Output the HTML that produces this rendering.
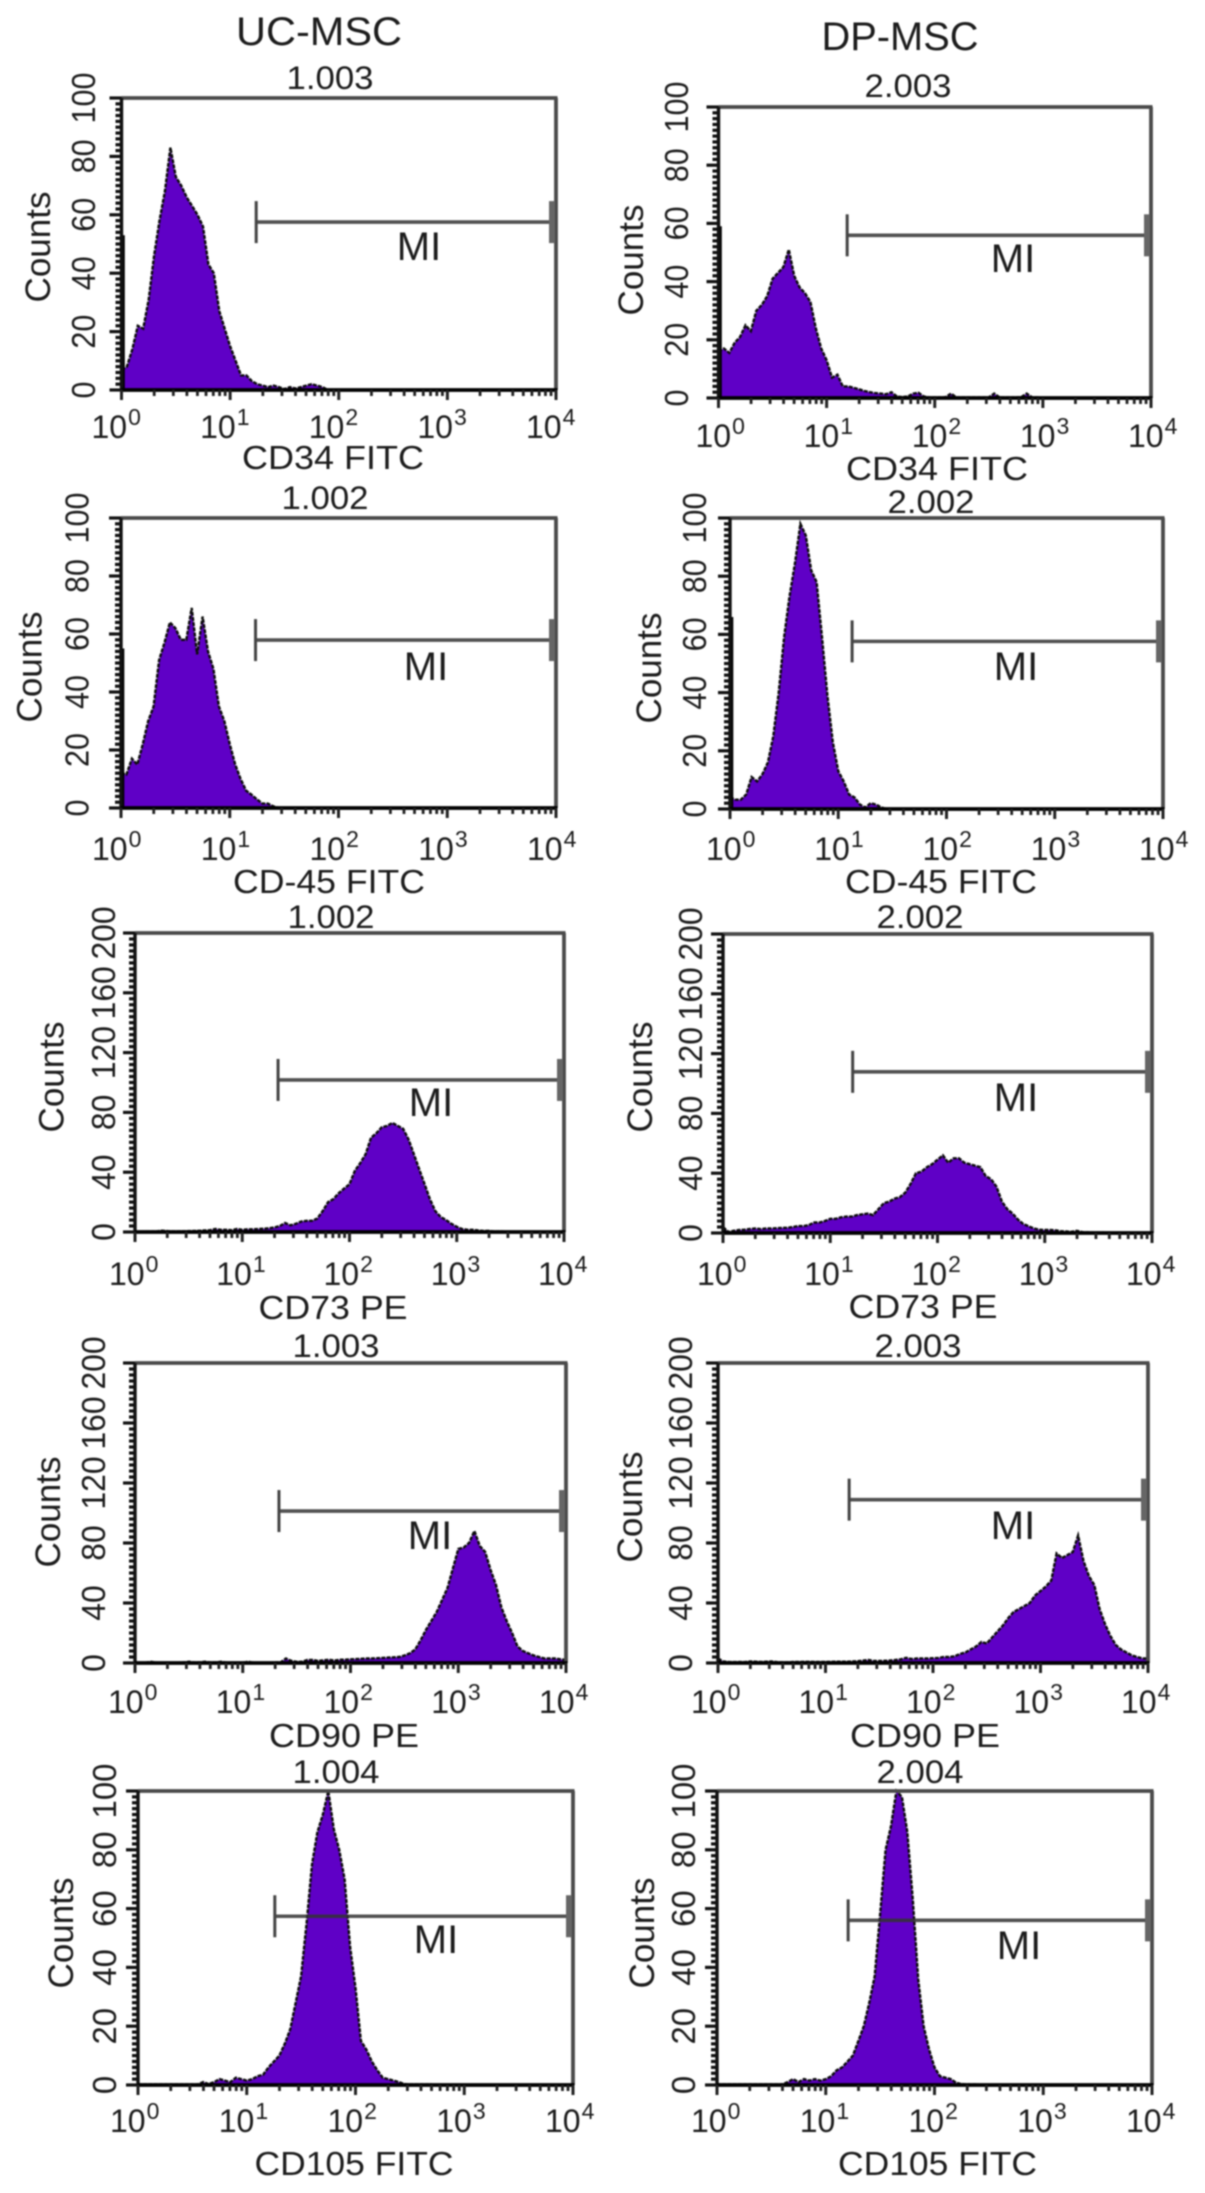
<!DOCTYPE html>
<html lang="en">
<head>
<meta charset="utf-8">
<title>Flow cytometry histograms: UC-MSC and DP-MSC</title>
<style>
html,body{margin:0;padding:0;background:#fff;width:1205px;height:2193px;overflow:hidden}
svg{display:block;filter:blur(0.7px)}
text{font-family:"Liberation Sans",Arial,sans-serif;fill:#1c1c1c}
</style>
</head>
<body>
<svg id="figure" xmlns="http://www.w3.org/2000/svg" width="1205" height="2193" viewBox="0 0 1205 2193">
  <text x="319" y="45" font-size="40" text-anchor="middle" textLength="166" lengthAdjust="spacingAndGlyphs">UC-MSC</text>
  <text x="900" y="50" font-size="40" text-anchor="middle" textLength="157" lengthAdjust="spacingAndGlyphs">DP-MSC</text>
</svg>
<script>
// Histogram counts, one value per 0.05 log10 bin starting at 10^0.
const ucCd34Counts = [7,8,14,22,21,31,46,58,68,83,73,70,66,63,60,56,43,40,27,21,15,10,5,5,3,2,1.5,1,1.5,1,0.3,1,0.5,1,1.5,2,1.5,1,0];
const dpCd34Counts = [16,17,15.5,19,21,25,23,30,32,35,41,43,45,51,42,38,36,33,24,17,13,7,8,4,4,3.5,3,2.4,2,1.7,1.5,1.3,2,0.5,0.3,0.5,1.5,1.8,0.5,0.2,0.2,0.2,0.3,1.5,0.2,0.2,0.2,0.2,0.2,0.2,0.2,1.5,0.2,0.2,0.2,0.2,0.3,1.5,0.2,0.2,0];
const ucCd45Counts = [12,11.5,17,15,22,30,35,51,57,64,62,58,58,69,53,66,54,48,35,30,22,15,10,6,4.6,3,1.5,1.5,0.6,0];
const dpCd45Counts = [4,3.2,3.2,5,11,9.5,12,16,25,40,59,73,84.5,98,94,82,78,59,39,23,13,9.5,5,4,1.5,0.5,2,1.5,0.5,0];
const ucCd73Counts = [0.2,0.2,0.3,0.3,0.4,0.9,0.6,0.4,0.4,0.5,0.6,0.7,0.8,1,1.2,2,1.5,1.5,1.2,2,1.5,1.8,1.8,2,2.2,2.5,3,4,6,4.5,5.5,7,7.5,7.5,9,14,20,22,26,29,32,41,46,52,63,66,70,71,73,71,69,62,52,42,32,22,14,10,8,5.5,3.5,2,1.5,1.5,1,0.7,0.8,0.3,0.4,0.2,0.2,0.2,0];
const dpCd73Counts = [4,0.7,1.5,2,2.2,2.7,3,2.6,3,3,3.2,3.4,3.5,4,4.6,4.6,5.3,7,7,8,9.5,9.5,10.5,11,11,12,12.5,13,12,16,20,21,23,24,27,33,40,41,44,46,49,52,47,50,50,47,46,45,44,38,36,31,21,16,13,9,6,4.5,3,2.2,2,2,1.8,1.2,1,0.8,1.5,0.6,0.5,0.3,0.3,0.3,0];
const ucCd90Counts = [0.2,0.2,0.2,0.8,0.2,0.2,0.2,0.2,0.2,0.3,0.9,0.3,0.3,0.9,0.3,0.4,0.9,0.2,0.2,0.2,0.2,0.9,0.2,0.2,0.2,0.2,0.3,0.3,3,1.5,0.8,0.8,2,2,1.3,1.8,2.2,1.6,2.2,2.2,2.5,2.6,2.8,3,3,3.2,3.4,3.6,3.8,4,5,6.5,9,15,22,28,34,42,50,63,76,77,80,88,78,74,62,52,37,28,20,11,8,6.5,5,4,3,3,3,2.5,2];
const dpCd90Counts = [3,1,0.7,0.6,0.7,0.6,1,0.9,0.7,0.9,1,0.6,0.5,0.5,0.7,0.7,0.8,0.8,0.7,0.7,0.7,0.8,0.9,0.9,0.9,1,1.2,1.6,2,1.3,1.3,1.5,1.7,2,2.5,3.5,2.7,3,3,3,3.2,3.4,4,4,4.5,6,7,9,11,14,13,17,21,25,30,34,36,38,40,45,48,51,55,73,70,72,74,85,68,58,52,36,26,18,12,9,7,5,4,3,3];
const ucCd105Counts = [0.2,0.2,0.2,0.2,0.2,0.2,0.2,0.2,0.2,0.2,0.2,0.2,1,0.3,1,2,1.5,1,2.5,2,1.5,2,3,3.5,6,8,10,14,19,28,37,55,75,86,92,100,87,80,70,47,33,15,12,8,5,2.5,2,1.5,1,0.3,0.2,0.2,0.2,0.2,0.2];
const dpCd105Counts = [0.2,0.2,0.2,0.2,0.2,0.2,0.2,0.2,0.2,0.2,0.2,0.2,0.2,1,2,1,2,1.5,2,1.5,2,3,5,6,8,10,15,20,28,37,58,80,88,100,98,86,63,36,20,12,6,3,2.5,2,0.7,0.3,0.2,0.2,0.2];

// Counts in the very first channel (the spike against the left axis), panel order.
const firstChannelCounts = [53,59,55,66,0,3,0,2,0,0];

// Marker gate "MI": start decade and the count level where its bar sits, panel order.
const gateStartDecades = [1.24,1.19,1.237,1.128,1.334,1.209,1.336,1.22,1.258,1.206];
const gateLevels = [57.5,55.9,57.9,57.6,101.7,107.8,101.3,108.9,57.4,56];

// Axis tick values and labels.
const xExponents = [0,1,2,3,4];
const xMinorMultipliers = [2,3,4,5,6,7,8,9];
const yTicks100 = [0,20,40,60,80,100];
const yTicks200 = [0,40,80,120,160,200];

// Panel text.
const panelTitles = ['1.003','2.003','1.002','2.002','1.002','2.002','1.003','2.003','1.004','2.004'];
const panelMarkers = ['CD34 FITC','CD34 FITC','CD-45 FITC','CD-45 FITC','CD73 PE','CD73 PE','CD90 PE','CD90 PE','CD105 FITC','CD105 FITC'];
const panelSeries = [ucCd34Counts,dpCd34Counts,ucCd45Counts,dpCd45Counts,ucCd73Counts,dpCd73Counts,ucCd90Counts,dpCd90Counts,ucCd105Counts,dpCd105Counts];
const panelKeys = ['uc-cd34','dp-cd34','uc-cd45','dp-cd45','uc-cd73','dp-cd73','uc-cd90','dp-cd90','uc-cd105','dp-cd105'];
const panelTickSets = [yTicks100,yTicks100,yTicks100,yTicks100,yTicks200,yTicks200,yTicks200,yTicks200,yTicks100,yTicks100];

// Layout (pixels): frame, then positions of the panel's text.
const layouts = [
 {l:121.5,r:556,t:98,b:390,  titleX:330,titleY:89,  labelX:333,labelY:469, labelW:182, miX:419,miY:260, countsX:50,countsY:247, yLabelX:95,  xLabelY:438, xLabelDx:-30, digitW:17},
 {l:718.5,r:1151,t:107,b:398,titleX:908,titleY:97,  labelX:937,labelY:480, labelW:182, miX:1013,miY:272,countsX:643,countsY:260,yLabelX:688, xLabelY:447, xLabelDx:-23, digitW:17},
 {l:121,r:556,t:518,b:808,   titleX:325,titleY:509, labelX:329,labelY:893, labelW:192, miX:426,miY:680, countsX:41.5,countsY:667,yLabelX:88.5,xLabelY:860, xLabelDx:-29, digitW:17},
 {l:730,r:1163,t:518,b:809,  titleX:931,titleY:513, labelX:941,labelY:893, labelW:192, miX:1016,miY:680,countsX:661,countsY:668,yLabelX:706, xLabelY:860, xLabelDx:-24, digitW:17},
 {l:135,r:564,t:933,b:1232,  titleX:331,titleY:928, labelX:333,labelY:1319,labelW:149, miX:431,miY:1116,countsX:63.5,countsY:1077,yLabelX:115,xLabelY:1285,xLabelDx:-26, digitW:17.7},
 {l:723,r:1152,t:934,b:1233, titleX:920,titleY:928, labelX:923,labelY:1318,labelW:149, miX:1016,miY:1111,countsX:652,countsY:1077,yLabelX:702,xLabelY:1285,xLabelDx:-26, digitW:17.7},
 {l:135,r:566,t:1363,b:1663, titleX:336,titleY:1357,labelX:344,labelY:1747,labelW:150, miX:430,miY:1549,countsX:60,countsY:1512,yLabelX:105, xLabelY:1713,xLabelDx:-27, digitW:17.7},
 {l:718,r:1148,t:1363,b:1663,titleX:918,titleY:1357,labelX:925,labelY:1747,labelW:150, miX:1013,miY:1539,countsX:642,countsY:1507,yLabelX:692,xLabelY:1713,xLabelDx:-27, digitW:17.7},
 {l:138,r:573,t:1791,b:2085, titleX:336,titleY:1783,labelX:354,labelY:2175,labelW:199, miX:436,miY:1953,countsX:73,countsY:1933,yLabelX:116, xLabelY:2132,xLabelDx:-28, digitW:18.3},
 {l:717,r:1152,t:1791,b:2085,titleX:920,titleY:1783,labelX:937.5,labelY:2175,labelW:199,miX:1019,miY:1959,countsX:654,countsY:1933,yLabelX:695,xLabelY:2132,xLabelDx:-26, digitW:18.3}
];

const BIN_DECADES = 0.05;
const DECADES = 4;
const SVG_NS = 'http://www.w3.org/2000/svg';
const figure = document.getElementById('figure');

function make(tag, parent, attrs) {
  const node = document.createElementNS(SVG_NS, tag);
  for (const key in attrs) node.setAttribute(key, attrs[key]);
  parent.appendChild(node);
  return node;
}
function xScale(f, decade) { return f.l + (decade / DECADES) * (f.r - f.l); }
function yScale(f, count, yMax) { return f.b - (count / yMax) * (f.b - f.t); }

panelSeries.forEach(function (counts, p) {
  const f = layouts[p];
  const ticks = panelTickSets[p];
  const yMax = ticks[ticks.length - 1];
  const key = panelKeys[p];

  const group = make('g', figure, {});
  
  

  // Histogram area and outline.
  const pts = counts.map(function (c, i) {
    return xScale(f, i * BIN_DECADES).toFixed(1) + ',' + yScale(f, c, yMax).toFixed(1);
  });
  const lastX = xScale(f, (counts.length - 1) * BIN_DECADES).toFixed(1);
  const area = make('polygon', group, {
    points: f.l + ',' + f.b + ' ' + pts.join(' ') + ' ' + lastX + ',' + f.b,
    fill: '#5f00c6', stroke: 'none'
  });
  
  
  const outline = make('polyline', group, {
    points: pts.join(' '), fill: 'none', stroke: '#0c0c0c', 'stroke-width': 2.4, 'stroke-linejoin': 'miter', 'stroke-dasharray': '4 1.2'
  });
  
  

  // First-channel spike.
  const spike = make('line', group, {
    x1: f.l + 1, x2: f.l + 1, y1: f.b, y2: yScale(f, firstChannelCounts[p], yMax), stroke: '#000', 'stroke-width': 4.6
  });
  
  

  // Frame: grey top and right, black left and bottom.
  const topEdge = make('line', group, { x1: f.l, x2: f.r + 1.5, y1: f.t, y2: f.t, stroke: '#4a4a4a', 'stroke-width': 3.8 });
  
  
  const rightEdge = make('line', group, { x1: f.r, x2: f.r, y1: f.t, y2: f.b, stroke: '#4a4a4a', 'stroke-width': 3.8 });
  
  
  const leftEdge = make('line', group, { x1: f.l, x2: f.l, y1: f.t, y2: f.b + 1, stroke: '#111', 'stroke-width': 3.4 });
  
  
  const bottomEdge = make('line', group, { x1: f.l, x2: f.r + 1.5, y1: f.b, y2: f.b, stroke: '#000', 'stroke-width': 3.8 });
  
  

  // Y ticks: major at labelled values, ten minor per major interval.
  const yStep = (ticks[1] - ticks[0]) / 10;
  for (let v = 0; v <= yMax + 1e-6; v += yStep) {
    const isMajor = ticks.some(function (t) { return Math.abs(t - v) < 1e-6; });
    const y = yScale(f, v, yMax);
    const yTick = make('line', group, { x1: f.l - (isMajor ? 12 : 6), x2: f.l, y1: y, y2: y, stroke: '#111', 'stroke-width': 3.2 });
    
    
  }
  ticks.forEach(function (t) {
    const y = yScale(f, t, yMax);
    const label = make('text', group, {
      x: 0, y: 0, 'font-size': 33, 'text-anchor': 'middle',
      transform: 'translate(' + f.yLabelX + ',' + y + ') rotate(-90)',
      textLength: String(t).length * f.digitW, lengthAdjust: 'spacingAndGlyphs'
    });
    
    
    label.textContent = String(t);
  });

  // X ticks: decades and log minor ticks.
  xExponents.forEach(function (e) {
    const x = xScale(f, e);
    const major = make('line', group, { x1: x, x2: x, y1: f.b, y2: f.b + 10, stroke: '#222', 'stroke-width': 3 });
    
    
    if (e < DECADES) {
      xMinorMultipliers.forEach(function (m) {
        const mx = xScale(f, e + Math.log10(m));
        const minor = make('line', group, { x1: mx, x2: mx, y1: f.b, y2: f.b + 6, stroke: '#222', 'stroke-width': 2.8 });
        
        
      });
    }
    const label = make('text', group, { x: x + f.xLabelDx, y: f.xLabelY, 'font-size': 32 });
    
    
    label.appendChild(document.createTextNode('10'));
    const sup = make('tspan', label, { dy: -13, dx: 1, 'font-size': 23 });
    sup.textContent = String(e);
  });

  // Marker gate.
  const gx = xScale(f, gateStartDecades[p]);
  const gy = yScale(f, gateLevels[p], yMax);
  const gateBar = make('line', group, { x1: gx, x2: f.r - 3, y1: gy, y2: gy, stroke: '#333', 'stroke-opacity': 0.85, 'stroke-width': 3.6 });
  
  
  const gateLeft = make('line', group, { x1: gx, x2: gx, y1: gy - 21, y2: gy + 21, stroke: '#444', 'stroke-width': 3 });
  
  
  const gateRight = make('line', group, { x1: f.r - 4, x2: f.r - 4, y1: gy - 21, y2: gy + 21, stroke: '#666', 'stroke-width': 6 });
  
  
  const gateLabel = make('text', group, { x: f.miX, y: f.miY, 'font-size': 40, 'text-anchor': 'middle' });
  
  
  gateLabel.textContent = 'MI';

  // Panel texts.
  const title = make('text', group, { x: f.titleX, y: f.titleY, 'font-size': 32, 'text-anchor': 'middle', textLength: 87, lengthAdjust: 'spacingAndGlyphs' });
  
  
  title.textContent = panelTitles[p];
  const xTitle = make('text', group, { x: f.labelX, y: f.labelY, 'font-size': 33, 'text-anchor': 'middle', textLength: f.labelW, lengthAdjust: 'spacingAndGlyphs' });
  
  
  xTitle.textContent = panelMarkers[p];
  const yTitle = make('text', group, { x: 0, y: 0, 'font-size': 35, 'text-anchor': 'middle', transform: 'translate(' + f.countsX + ',' + f.countsY + ') rotate(-90)' });
  
  
  yTitle.textContent = 'Counts';
});
</script>
</body>
</html>
